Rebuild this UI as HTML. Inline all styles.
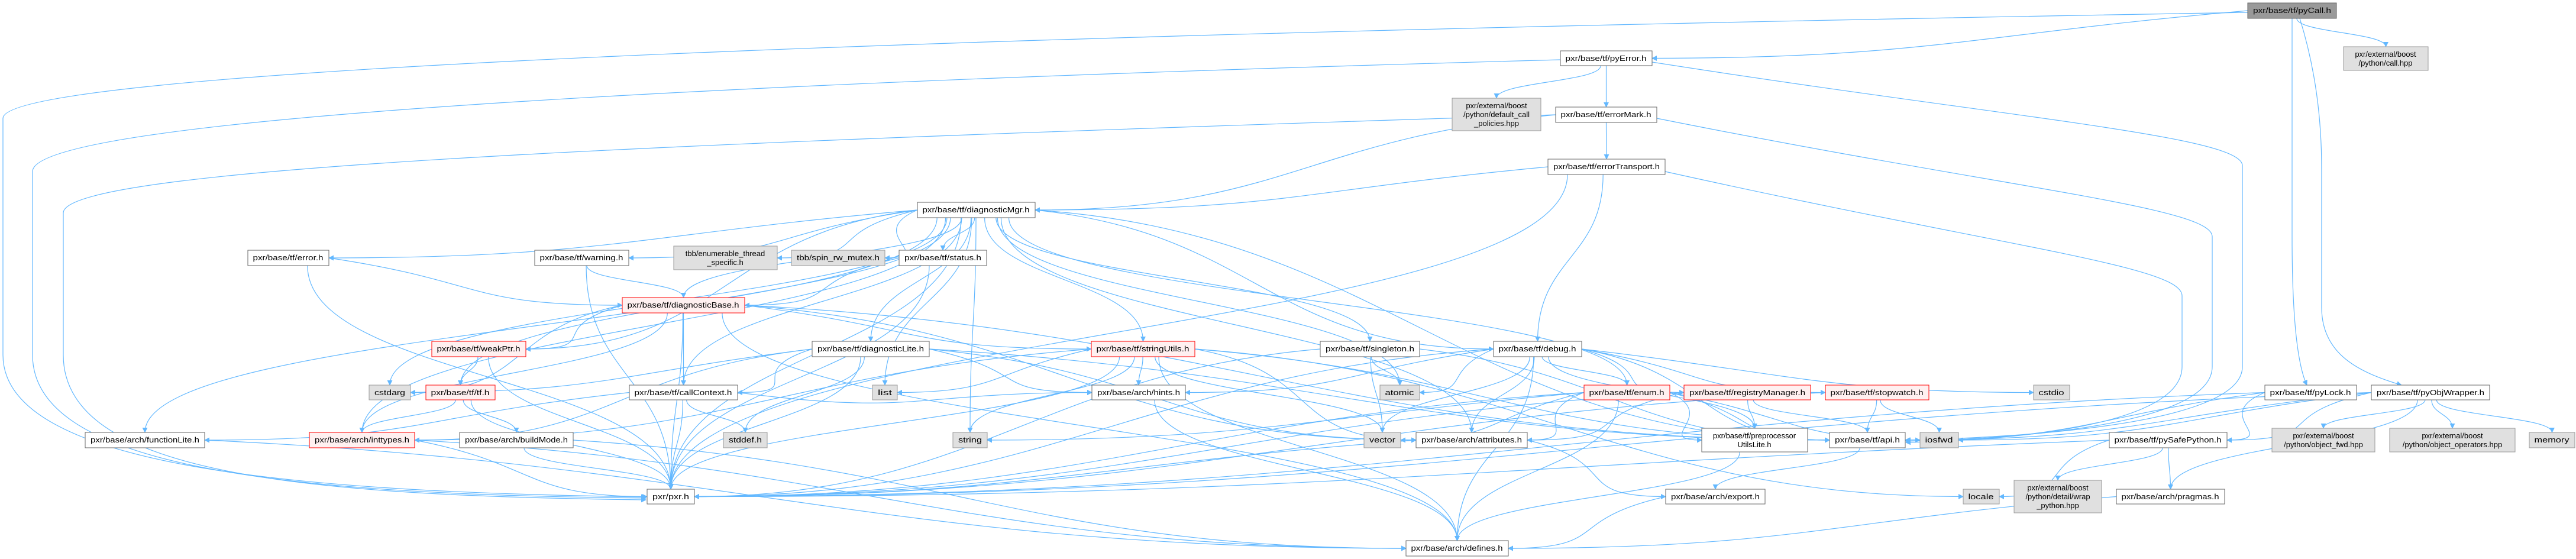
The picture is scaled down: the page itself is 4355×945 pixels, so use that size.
<!DOCTYPE html>
<html><head><meta charset="utf-8"><style>
html,body{margin:0;padding:0;background:#fff;width:4355px;height:945px;overflow:hidden}
svg{display:block}
text{font-family:"Liberation Sans",sans-serif;font-size:13px;fill:#000}
</style></head><body>
<svg id="g" width="4355" height="945" viewBox="0 0 4355 945" xmlns="http://www.w3.org/2000/svg">
<defs><marker id="ah" viewBox="0 0 10 10" refX="9" refY="5" markerWidth="9" markerHeight="9" orient="auto" markerUnits="userSpaceOnUse"><path d="M0,0 L10,5 L0,10 z" fill="#63b8ff"/></marker></defs>
<g id="edges" fill="none" stroke="#63b8ff" stroke-width="1.2"></g>
<g id="nodes">
<rect x="3800" y="5" width="150" height="26" fill="#999" stroke="#666"/><text x="3875" y="22" text-anchor="middle">pxr/base/tf/pyCall.h</text>
<rect x="3962" y="79" width="143" height="40" fill="#e0e0e0" stroke="#999"/><text x="4033" y="96" text-anchor="middle">pxr/external/boost</text><text x="4033" y="111" text-anchor="middle">/python/call.hpp</text>
<rect x="2638" y="86" width="155" height="25" fill="#fff" stroke="#666"/><text x="2715" y="103" text-anchor="middle">pxr/base/tf/pyError.h</text>
<rect x="2455" y="166" width="150" height="55" fill="#e0e0e0" stroke="#999"/><text x="2530" y="183" text-anchor="middle">pxr/external/boost</text><text x="2530" y="198" text-anchor="middle">/python/default_call</text><text x="2530" y="213" text-anchor="middle">_policies.hpp</text>
<rect x="2630" y="181" width="171" height="26" fill="#fff" stroke="#666"/><text x="2715" y="198" text-anchor="middle">pxr/base/tf/errorMark.h</text>
<rect x="2617" y="269" width="198" height="26" fill="#fff" stroke="#666"/><text x="2716" y="286" text-anchor="middle">pxr/base/tf/errorTransport.h</text>
<rect x="1551" y="342" width="199" height="26" fill="#fff" stroke="#666"/><text x="1650" y="359" text-anchor="middle">pxr/base/tf/diagnosticMgr.h</text>
<rect x="1139" y="416" width="175" height="40" fill="#e0e0e0" stroke="#999"/><text x="1226" y="433" text-anchor="middle">tbb/enumerable_thread</text><text x="1226" y="448" text-anchor="middle">_specific.h</text>
<rect x="1338" y="423" width="158" height="26" fill="#e0e0e0" stroke="#999"/><text x="1417" y="440" text-anchor="middle">tbb/spin_rw_mutex.h</text>
<rect x="1520" y="423" width="148" height="26" fill="#fff" stroke="#666"/><text x="1594" y="440" text-anchor="middle">pxr/base/tf/status.h</text>
<rect x="419" y="423" width="137" height="26" fill="#fff" stroke="#666"/><text x="487" y="440" text-anchor="middle">pxr/base/tf/error.h</text>
<rect x="904" y="423" width="159" height="26" fill="#fff" stroke="#666"/><text x="983" y="440" text-anchor="middle">pxr/base/tf/warning.h</text>
<rect x="1052" y="503" width="207" height="26" fill="#fff0f0" stroke="#f00"/><text x="1155" y="520" text-anchor="middle">pxr/base/tf/diagnosticBase.h</text>
<rect x="730" y="577" width="159" height="26" fill="#fff0f0" stroke="#f00"/><text x="809" y="594" text-anchor="middle">pxr/base/tf/weakPtr.h</text>
<rect x="1373" y="577" width="198" height="26" fill="#fff" stroke="#666"/><text x="1472" y="594" text-anchor="middle">pxr/base/tf/diagnosticLite.h</text>
<rect x="1845" y="577" width="175" height="26" fill="#fff0f0" stroke="#f00"/><text x="1932" y="594" text-anchor="middle">pxr/base/tf/stringUtils.h</text>
<rect x="2232" y="577" width="168" height="26" fill="#fff" stroke="#666"/><text x="2316" y="594" text-anchor="middle">pxr/base/tf/singleton.h</text>
<rect x="2525" y="577" width="149" height="26" fill="#fff" stroke="#666"/><text x="2599" y="594" text-anchor="middle">pxr/base/tf/debug.h</text>
<rect x="624" y="651" width="70" height="25" fill="#e0e0e0" stroke="#999"/><text x="659" y="668" text-anchor="middle">cstdarg</text>
<rect x="720" y="651" width="117" height="25" fill="#fff0f0" stroke="#f00"/><text x="778" y="668" text-anchor="middle">pxr/base/tf/tf.h</text>
<rect x="1064" y="651" width="183" height="25" fill="#fff" stroke="#666"/><text x="1155" y="668" text-anchor="middle">pxr/base/tf/callContext.h</text>
<rect x="1475" y="651" width="42" height="25" fill="#e0e0e0" stroke="#999"/><text x="1496" y="668" text-anchor="middle">list</text>
<rect x="1846" y="651" width="158" height="25" fill="#fff" stroke="#666"/><text x="1925" y="668" text-anchor="middle">pxr/base/arch/hints.h</text>
<rect x="2333" y="651" width="67" height="25" fill="#e0e0e0" stroke="#999"/><text x="2366" y="668" text-anchor="middle">atomic</text>
<rect x="2678" y="651" width="145" height="25" fill="#fff0f0" stroke="#f00"/><text x="2750" y="668" text-anchor="middle">pxr/base/tf/enum.h</text>
<rect x="2847" y="651" width="214" height="25" fill="#fff0f0" stroke="#f00"/><text x="2954" y="668" text-anchor="middle">pxr/base/tf/registryManager.h</text>
<rect x="3086" y="651" width="175" height="25" fill="#fff0f0" stroke="#f00"/><text x="3173" y="668" text-anchor="middle">pxr/base/tf/stopwatch.h</text>
<rect x="3438" y="651" width="61" height="25" fill="#e0e0e0" stroke="#999"/><text x="3468" y="668" text-anchor="middle">cstdio</text>
<rect x="3829" y="651" width="155" height="25" fill="#fff" stroke="#666"/><text x="3906" y="668" text-anchor="middle">pxr/base/tf/pyLock.h</text>
<rect x="4009" y="651" width="200" height="25" fill="#fff" stroke="#666"/><text x="4109" y="668" text-anchor="middle">pxr/base/tf/pyObjWrapper.h</text>
<rect x="144" y="731" width="202" height="26" fill="#fff" stroke="#666"/><text x="245" y="748" text-anchor="middle">pxr/base/arch/functionLite.h</text>
<rect x="523" y="731" width="178" height="26" fill="#fff0f0" stroke="#f00"/><text x="612" y="748" text-anchor="middle">pxr/base/arch/inttypes.h</text>
<rect x="777" y="731" width="192" height="26" fill="#fff" stroke="#666"/><text x="873" y="748" text-anchor="middle">pxr/base/arch/buildMode.h</text>
<rect x="1223" y="731" width="74" height="26" fill="#e0e0e0" stroke="#999"/><text x="1260" y="748" text-anchor="middle">stddef.h</text>
<rect x="1611" y="731" width="58" height="26" fill="#e0e0e0" stroke="#999"/><text x="1640" y="748" text-anchor="middle">string</text>
<rect x="2306" y="731" width="62" height="26" fill="#e0e0e0" stroke="#999"/><text x="2337" y="748" text-anchor="middle">vector</text>
<rect x="2394" y="731" width="188" height="26" fill="#fff" stroke="#666"/><text x="2488" y="748" text-anchor="middle">pxr/base/arch/attributes.h</text>
<rect x="2877" y="724" width="179" height="40" fill="#fff" stroke="#666"/><text x="2966" y="741" text-anchor="middle">pxr/base/tf/preprocessor</text><text x="2966" y="756" text-anchor="middle">UtilsLite.h</text>
<rect x="3093" y="731" width="128" height="26" fill="#fff" stroke="#666"/><text x="3157" y="748" text-anchor="middle">pxr/base/tf/api.h</text>
<rect x="3246" y="731" width="65" height="26" fill="#e0e0e0" stroke="#999"/><text x="3278" y="748" text-anchor="middle">iosfwd</text>
<rect x="3566" y="731" width="199" height="26" fill="#fff" stroke="#666"/><text x="3665" y="748" text-anchor="middle">pxr/base/tf/pySafePython.h</text>
<rect x="3841" y="724" width="174" height="40" fill="#e0e0e0" stroke="#999"/><text x="3928" y="741" text-anchor="middle">pxr/external/boost</text><text x="3928" y="756" text-anchor="middle">/python/object_fwd.hpp</text>
<rect x="4040" y="724" width="212" height="40" fill="#e0e0e0" stroke="#999"/><text x="4146" y="741" text-anchor="middle">pxr/external/boost</text><text x="4146" y="756" text-anchor="middle">/python/object_operators.hpp</text>
<rect x="4276" y="731" width="77" height="26" fill="#e0e0e0" stroke="#999"/><text x="4314" y="748" text-anchor="middle">memory</text>
<rect x="1094" y="827" width="80" height="25" fill="#fff" stroke="#666"/><text x="1134" y="844" text-anchor="middle">pxr/pxr.h</text>
<rect x="2816" y="827" width="168" height="25" fill="#fff" stroke="#666"/><text x="2900" y="844" text-anchor="middle">pxr/base/arch/export.h</text>
<rect x="3319" y="827" width="61" height="25" fill="#e0e0e0" stroke="#999"/><text x="3349" y="844" text-anchor="middle">locale</text>
<rect x="3405" y="812" width="148" height="55" fill="#e0e0e0" stroke="#999"/><text x="3479" y="829" text-anchor="middle">pxr/external/boost</text><text x="3479" y="844" text-anchor="middle">/python/detail/wrap</text><text x="3479" y="859" text-anchor="middle">_python.hpp</text>
<rect x="3578" y="827" width="183" height="25" fill="#fff" stroke="#666"/><text x="3669" y="844" text-anchor="middle">pxr/base/arch/pragmas.h</text>
<rect x="2377" y="914" width="173" height="26" fill="#fff" stroke="#666"/><text x="2463" y="931" text-anchor="middle">pxr/base/arch/defines.h</text>
</g>
</svg>
<script>
var N={pyCall:[3800,5,150,26],callhpp:[3962,79,143,40],pyError:[2638,86,155,25],dcp:[2455,166,150,55],errorMark:[2630,181,171,26],errorTransport:[2617,269,198,26],diagMgr:[1551,342,199,26],ets:[1139,416,175,40],spin:[1338,423,158,26],status:[1520,423,148,26],error:[419,423,137,26],warning:[904,423,159,26],diagBase:[1052,503,207,26],weakPtr:[730,577,159,26],diagLite:[1373,577,198,26],stringUtils:[1845,577,175,26],singleton:[2232,577,168,26],debug:[2525,577,149,26],cstdarg:[624,651,70,25],tf:[720,651,117,25],callContext:[1064,651,183,25],list:[1475,651,42,25],hints:[1846,651,158,25],atomic:[2333,651,67,25],enm:[2678,651,145,25],registry:[2847,651,214,25],stopwatch:[3086,651,175,25],cstdio:[3438,651,61,25],pyLock:[3829,651,155,25],pyObj:[4009,651,200,25],functionLite:[144,731,202,26],inttypes:[523,731,178,26],buildMode:[777,731,192,26],stddef:[1223,731,74,26],string:[1611,731,58,26],vector:[2306,731,62,26],attributes:[2394,731,188,26],preproc:[2877,724,179,40],api:[3093,731,128,26],iosfwd:[3246,731,65,26],pySafe:[3566,731,199,26],objfwd:[3841,724,174,40],objops:[4040,724,212,40],memory:[4276,731,77,26],pxr:[1094,827,80,25],exp:[2816,827,168,25],locale:[3319,827,61,25],wrap:[3405,812,148,55],pragmas:[3578,827,183,25],defines:[2377,914,173,26]};
var E="pyCall>pyError pyCall>callhpp pyError>dcp pyError>errorMark errorMark>errorTransport errorMark>diagMgr errorTransport>diagMgr errorTransport>pxr errorTransport>debug diagMgr>ets diagMgr>spin diagMgr>status diagMgr>error diagMgr>warning diagMgr>diagBase diagMgr>weakPtr diagMgr>diagLite diagMgr>stringUtils diagMgr>singleton diagMgr>debug diagMgr>callContext diagMgr>list diagMgr>string diagMgr>atomic diagMgr>enm diagMgr>api diagMgr>attributes diagMgr>cstdarg diagMgr>inttypes diagMgr>functionLite diagMgr>pxr diagMgr>tf status>diagBase status>pxr error>diagBase error>pxr warning>diagBase warning>pxr diagBase>weakPtr diagBase>callContext diagBase>stringUtils diagBase>inttypes diagBase>cstdarg diagBase>pxr diagBase>api diagBase>attributes diagBase>defines weakPtr>tf weakPtr>pxr tf>inttypes tf>buildMode tf>pxr diagLite>callContext diagLite>stddef diagLite>pxr diagLite>hints diagLite>attributes diagLite>api diagLite>cstdarg diagLite>inttypes callContext>stddef callContext>pxr callContext>functionLite callContext>hints stringUtils>hints stringUtils>string stringUtils>pxr stringUtils>vector stringUtils>attributes stringUtils>api stringUtils>inttypes stringUtils>defines stringUtils>locale stringUtils>list singleton>atomic singleton>api singleton>pxr singleton>vector debug>atomic debug>enm debug>registry debug>stopwatch debug>vector debug>attributes debug>api debug>pxr debug>hints debug>cstdio debug>defines debug>preproc enm>preproc enm>api enm>attributes enm>defines enm>pxr enm>string enm>vector enm>iosfwd registry>api registry>preproc registry>pxr registry>attributes stopwatch>api stopwatch>iosfwd stopwatch>pxr pyLock>pySafe pyLock>pxr pyLock>api pyObj>pySafe pyObj>objfwd pyObj>objops pyObj>memory pyObj>pragmas pyObj>api pyObj>pxr pyObj>iosfwd pySafe>wrap pySafe>pragmas pySafe>locale pySafe>pxr inttypes>pxr inttypes>defines buildMode>pxr buildMode>defines functionLite>defines attributes>exp attributes>pxr api>exp exp>defines preproc>defines pragmas>defines hints>defines".split(" ");
var g=document.getElementById("edges"),s="";
function P(d){s+='<path d="'+d+'" marker-end="url(#ah)"/>';}
E.forEach(function(e){var a=N[e.split(">")[0]],b=N[e.split(">")[1]];
var sx=a[0]+a[2]/2,sy=a[1]+a[3],tx=b[0]+b[2]/2,ty=b[1];
var dx=tx-sx,dy=ty-sy;
if(Math.abs(dx)>4*Math.abs(dy)){ty=b[1]+b[3]/2;tx=dx>0?b[0]:b[0]+b[2];sx=dx>0?a[0]+a[2]:a[0];sy=a[1]+a[3]/2;
P("M"+sx+","+sy+" C"+(sx+dx*0.4)+","+(sy+40)+" "+(tx-dx*0.4)+","+ty+" "+tx+","+ty);return;}
sx+=Math.max(-a[2]/3,Math.min(a[2]/3,dx*0.05));
var m=(sy+ty)/2;P("M"+sx.toFixed(1)+","+sy+" C"+sx.toFixed(1)+","+m+" "+tx+","+m+" "+tx+","+ty);});
P("M3800,21 C1500,60 5,120 5,200 L5,600 C5,790 500,832 1092,840");
P("M2638,101 C1200,140 55,200 55,290 L55,600 C55,795 500,836 1092,842");
P("M2630,194 C1200,240 107,280 107,360 L107,600 C107,800 500,838 1092,845");
P("M2793,105 C3400,200 3791,230 3791,280 L3791,620 C3791,720 3400,740 3222,744");
P("M2801,200 C3400,320 3740,350 3740,400 L3740,620 C3740,720 3400,742 3222,746");
P("M2815,290 C3400,420 3689,450 3689,500 L3689,620 C3689,720 3400,744 3222,748");
P("M3875,31 L3875,400 C3875,600 3895,640 3900,651");
P("M3888,31 C3925,150 3925,250 3925,300 L3925,520 C3925,600 3990,630 4060,651");
g.innerHTML=s;
var rs=document.querySelectorAll("#nodes rect");
rs.forEach(function(r){var ts=[],n=r.nextElementSibling;while(n&&n.tagName.toLowerCase()==="text"){ts.push(n);n=n.nextElementSibling;}
if(ts.length===1){var w=+r.getAttribute("width")-18;var t=ts[0];try{var bw=t.getComputedTextLength();if(bw<w){t.setAttribute("textLength",w);t.setAttribute("lengthAdjust","spacingAndGlyphs");}}catch(e){}}});
</script>
</body></html>
